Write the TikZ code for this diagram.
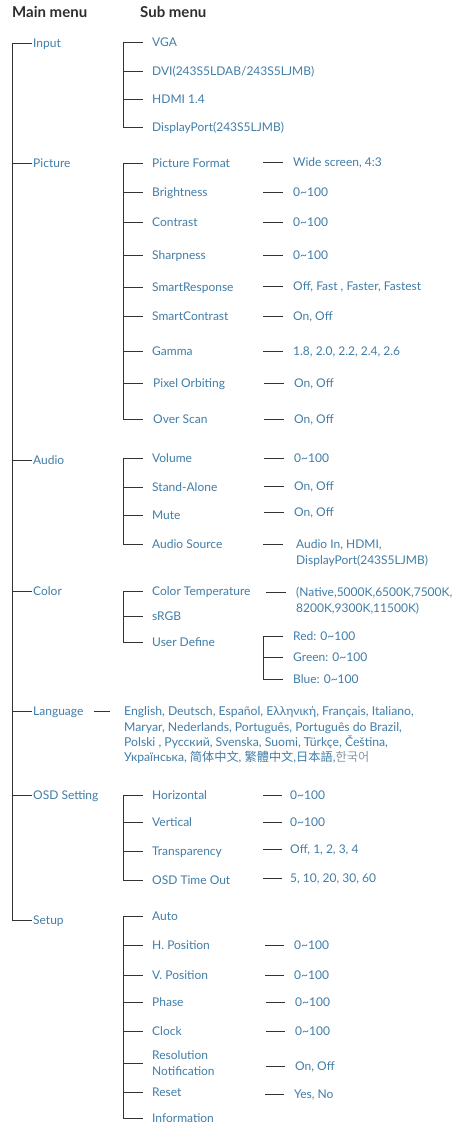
\documentclass[tikz,border=0pt]{standalone}
\usepackage{fontspec}
\setmainfont{Lato}
\newfontfamily\cjk{Noto Sans CJK SC}
\definecolor{menublue}{RGB}{64,125,168}
\definecolor{hdr}{RGB}{45,45,45}
\definecolor{kor}{RGB}{135,150,165}
\begin{document}
\begin{tikzpicture}[x=1pt,y=-1pt,
  tree/.style={draw=black!80, line width=0.8pt},
  lbl/.style={font=\fontsize{12}{14}\selectfont, text=menublue, inner sep=0pt, anchor=west, text height=8.6pt, text depth=0pt},
  lang/.style={lbl, font=\fontsize{12.2}{14}\selectfont},
  twoline/.style={font=\fontsize{12}{16}\selectfont, text=menublue, inner sep=0pt, anchor=west, align=left},
  head/.style={font=\fontsize{15}{17}\selectfont\bfseries, text=hdr, inner sep=0pt, anchor=west, text height=10.8pt, text depth=0pt}]
\useasboundingbox (0,0) rectangle (466,1125);

% headers
\node[head] (h1) at (12,12) {Main menu};
\node[head] (h2) at (140,12) {Sub menu};

% main menu
\node[lbl] (m1) at (33,43) {Input};
\node[lbl] (m2) at (33,163) {Picture};
\node[lbl] (m3) at (33,460) {Audio};
\node[lbl] (m4) at (33,591) {Color};
\node[lbl] (m5) at (33,711) {Language};
\node[lbl] (m6) at (33,795) {OSD Setting};
\node[lbl] (m7) at (33,920) {Setup};
\draw[tree] ([xshift=-1pt]m1.west) -| ([xshift=-21pt]m7.west) -- ([xshift=-1pt]m7.west);
\foreach \n in {m2,m3,m4,m5,m6} \draw[tree] ([xshift=-1pt]\n.west) -- ([xshift=-21pt]\n.west);

% Input
\node[lbl] (i1) at (152,42) {VGA};
\node[lbl] (i2) at (152,71) {DVI(243S5LDAB/243S5LJMB)};
\node[lbl] (i3) at (152,99) {HDMI 1.4};
\node[lbl] (i4) at (152,127) {DisplayPort(243S5LJMB)};
\draw[tree] ([xshift=-9pt]i1.west) -| ([xshift=-29pt]i4.west) -- ([xshift=-9pt]i4.west);
\foreach \n in {i2,i3} \draw[tree] ([xshift=-9pt]\n.west) -- ([xshift=-29pt]\n.west);

% Picture
\node[lbl] (p1) at (152,163) {Picture Format};
\node[lbl] (p2) at (152,192) {Brightness};
\node[lbl] (p3) at (152,222) {Contrast};
\node[lbl] (p4) at (152,255) {Sharpness};
\node[lbl] (p5) at (152,287) {SmartResponse};
\node[lbl] (p6) at (152,316) {SmartContrast};
\node[lbl] (p7) at (152,351) {Gamma};
\node[lbl] (p8) at (153,383) {Pixel Orbiting};
\node[lbl] (p9) at (153,419) {Over Scan};
\draw[tree] ([xshift=-9pt]p1.west) -| ([xshift=-30pt]p9.west) -- ([xshift=-10pt]p9.west);
\foreach \n in {p2,p3,p4,p5,p6,p7} \draw[tree] ([xshift=-9pt]\n.west) -- ([xshift=-29pt]\n.west);
\draw[tree] ([xshift=-10pt]p8.west) -- ([xshift=-30pt]p8.west);

\node[lbl] (pv1) at (293,162) {Wide screen, 4:3};
\node[lbl] (pv2) at (293,192) {0\textasciitilde100};
\node[lbl] (pv3) at (293,222) {0\textasciitilde100};
\node[lbl] (pv4) at (293,255) {0\textasciitilde100};
\node[lbl] (pv5) at (293,286) {Off, Fast , Faster, Fastest};
\node[lbl] (pv6) at (293,316) {On, Off};
\node[lbl] (pv7) at (293,351) {1.8, 2.0, 2.2, 2.4, 2.6};
\node[lbl] (pv8) at (294,383) {On, Off};
\node[lbl] (pv9) at (294,419) {On, Off};
\foreach \n in {pv1,pv2,pv3,pv4,pv5,pv6,pv7,pv8,pv9} \draw[tree] ([xshift=-10pt]\n.west) -- ([xshift=-30pt]\n.west);

% Audio
\node[lbl] (a1) at (152,458) {Volume};
\node[lbl] (a2) at (152,487) {Stand-Alone};
\node[lbl] (a3) at (152,515) {Mute};
\node[lbl] (a4) at (152,544) {Audio Source};
\draw[tree] ([xshift=-9pt]a1.west) -| ([xshift=-29pt]a4.west) -- ([xshift=-9pt]a4.west);
\foreach \n in {a2,a3} \draw[tree] ([xshift=-9pt]\n.west) -- ([xshift=-29pt]\n.west);

\node[lbl] (av1) at (294,458) {0\textasciitilde100};
\node[lbl] (av2) at (294,486) {On, Off};
\node[lbl] (av3) at (294,512) {On, Off};
\node[lbl] (av4) at (296,544) {Audio In, HDMI,};
\node[lbl] (av4b) at (296,560) {DisplayPort(243S5LJMB)};
\foreach \n in {av1,av2,av3} \draw[tree] ([xshift=-10pt]\n.west) -- ([xshift=-30pt]\n.west);
\draw[tree] ([xshift=-13pt]av4.west) -- ([xshift=-33pt]av4.west);

% Color
\node[lbl] (c1) at (152,591) {Color Temperature};
\node[lbl] (c2) at (152,616) {sRGB};
\node[lbl] (c3) at (152,642) {User Define};
\draw[tree] ([xshift=-9pt]c1.west) -| ([xshift=-29pt]c3.west) -- ([xshift=-9pt]c3.west);
\draw[tree] ([xshift=-9pt]c2.west) -- ([xshift=-29pt]c2.west);

\node[lbl] (cv1) at (296,592) {(Native,5000K,6500K,7500K,};
\node[lbl] (cv1b) at (296,608) {8200K,9300K,11500K)};
\draw[tree] ([xshift=-10pt]cv1.west) -- ([xshift=-30pt]cv1.west);

\node[lbl] (u1) at (293,636) {Red: 0\textasciitilde100};
\node[lbl] (u2) at (293,657) {Green: 0\textasciitilde100};
\node[lbl] (u3) at (293,679) {Blue: 0\textasciitilde100};
\draw[tree] ([xshift=-10pt]u1.west) -| ([xshift=-30pt]u3.west) -- ([xshift=-10pt]u3.west);
\draw[tree] ([xshift=-10pt]u2.west) -- ([xshift=-30pt]u2.west);

% Language
\node[lang] (l1) at (124,711) {English, Deutsch, Español, Ελληνική, Français, Italiano,};
\node[lang] (l2) at (124,727) {Maryar, Nederlands, Português, Português do Brazil,};
\node[lang] (l3) at (124,742) {Polski , Русский, Svenska, Suomi, Türkçe, Čeština,};
\node[lang] (l4) at (124,757) {Українська, {\cjk 简体中文}, {\cjk 繁體中文},{\cjk 日本語},{\cjk\color{kor}한국어}};
\draw[tree] ([xshift=10pt]m5.east) -- ([xshift=-14pt]l1.west);

% OSD Setting
\node[lbl] (o1) at (152,795) {Horizontal};
\node[lbl] (o2) at (152,822) {Vertical};
\node[lbl] (o3) at (152,851) {Transparency};
\node[lbl] (o4) at (152,880) {OSD Time Out};
\draw[tree] ([xshift=-9pt]o1.west) -| ([xshift=-29pt]o4.west) -- ([xshift=-9pt]o4.west);
\foreach \n in {o2,o3} \draw[tree] ([xshift=-9pt]\n.west) -- ([xshift=-29pt]\n.west);

\node[lbl] (ov1) at (290,795) {0\textasciitilde100};
\node[lbl] (ov2) at (290,822) {0\textasciitilde100};
\node[lbl] (ov3) at (290,849) {Off, 1, 2, 3, 4};
\node[lbl] (ov4) at (290,878) {5, 10, 20, 30, 60};
\foreach \n in {ov1,ov2,ov3,ov4} \draw[tree] ([xshift=-8pt]\n.west) -- ([xshift=-27pt]\n.west);

% Setup
\node[lbl] (s1) at (152,916) {Auto};
\node[lbl] (s2) at (152,945) {H. Position};
\node[lbl] (s3) at (152,975) {V. Position};
\node[lbl] (s4) at (152,1002) {Phase};
\node[lbl] (s5) at (152,1031) {Clock};
\node[twoline] (s6) at (152,1063) {Resolution\\Notification};
\node[lbl] (s7) at (152,1092) {Reset};
\node[lbl] (s8) at (152,1118) {Information};
\draw[tree] ([xshift=-9pt]s1.west) -| ([xshift=-29pt]s8.west) -- ([xshift=-9pt]s8.west);
\foreach \n in {s2,s3,s4,s5,s6,s7} \draw[tree] ([xshift=-9pt]\n.west) -- ([xshift=-29pt]\n.west);

\node[lbl] (sv2) at (294,945) {0\textasciitilde100};
\node[lbl] (sv3) at (294,975) {0\textasciitilde100};
\node[lbl] (sv4) at (295,1002) {0\textasciitilde100};
\node[lbl] (sv5) at (295,1031) {0\textasciitilde100};
\node[lbl] (sv6) at (295,1066) {On, Off};
\node[lbl] (sv7) at (294,1094) {Yes, No};
\foreach \n in {sv2,sv3,sv4,sv5,sv6,sv7} \draw[tree] ([xshift=-10pt]\n.west) -- ([xshift=-29pt]\n.west);
\end{tikzpicture}
\end{document}
